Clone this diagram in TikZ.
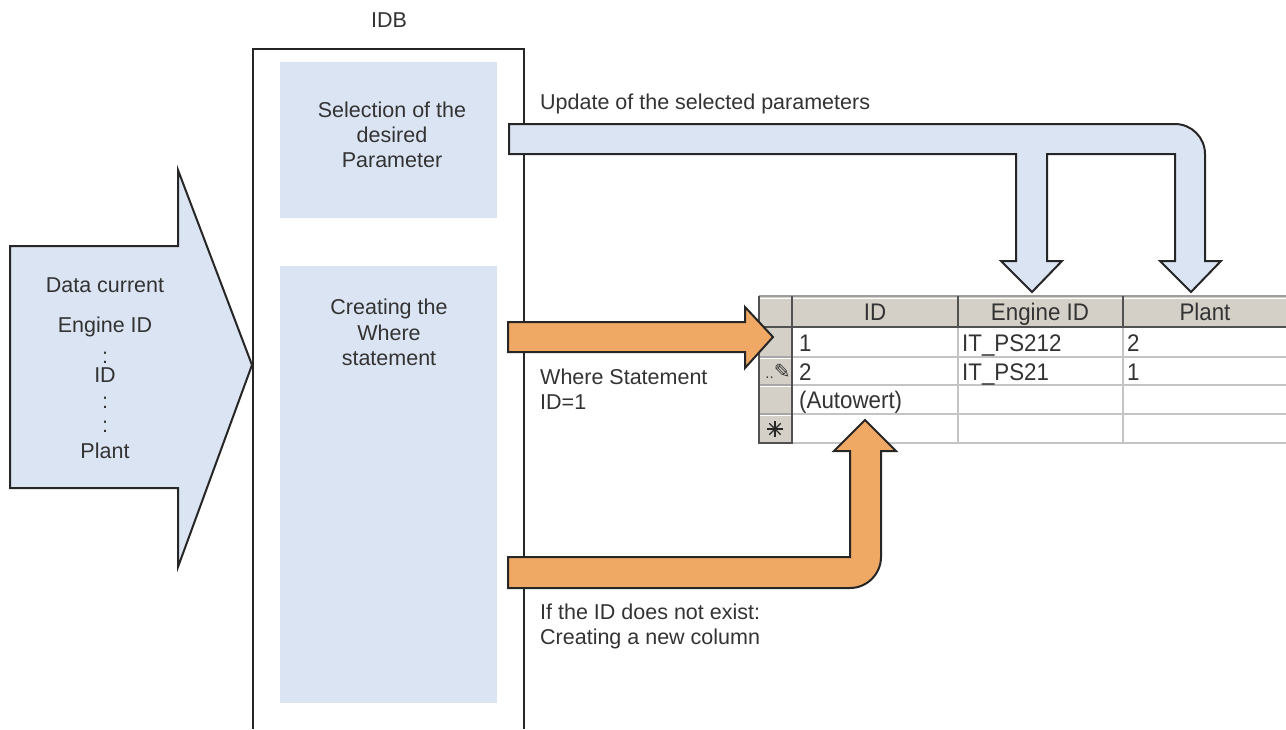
\documentclass[tikz,border=0pt]{standalone}
\usepackage{fontspec}
\usetikzlibrary{calc}
\setmainfont{Liberation Sans}
\newfontfamily\tablefont[FakeStretch=0.93]{Liberation Sans}
\newfontfamily\symfont{DejaVu Sans}
\definecolor{lblue}{HTML}{DBE4F2}
\definecolor{orng}{HTML}{F0A964}
\definecolor{txt}{HTML}{333333}
\definecolor{edge}{HTML}{262626}
\definecolor{hdr}{HTML}{D4D0C8}
\definecolor{gridc}{HTML}{C4C4C4}
\begin{document}
\begin{tikzpicture}[x=1pt,y=-1pt,
  lbl/.style={font=\fontsize{21.5}{25}\selectfont, text=txt, inner sep=0pt},
  tbl/.style={font=\tablefont\fontsize{24}{28}\selectfont, text=txt, inner sep=0pt},
  shape arrow/.style={draw=edge, line width=2pt, line join=miter},
  frame/.style={draw=edge, line width=1.6pt},
  panel/.style={fill=lblue},
  darkline/.style={draw=edge!80, line width=2pt},
  lightline/.style={draw=gridc, line width=1.6pt}]
\useasboundingbox (0,0) rectangle (1286,729);

% IDB frame
\draw[frame] (253,729) -- (253,49) -- (524,49) -- (524,729);
\node[lbl, anchor=base] (idb) at (389,27) {IDB};

% panels
\fill[panel] (280,62) rectangle (497,218);
\fill[panel] (280,266) rectangle (497,703);
\node[lbl, anchor=base] (sel1) at (392,117) {Selection of the};
\node[lbl, anchor=base] (sel2) at (392,142) {desired};
\node[lbl, anchor=base] (sel3) at (392,167) {Parameter};
\node[lbl, anchor=base] (cr1) at (389,314) {Creating the};
\node[lbl, anchor=base] (cr2) at (389,340) {Where};
\node[lbl, anchor=base] (cr3) at (389,365) {statement};

% left input arrow
\draw[shape arrow, fill=lblue] (10,246) -- (178,246) -- (178,170) -- (252,365)
  -- (178,567) -- (178,488) -- (10,488) -- cycle;
\node[lbl, anchor=base] (d1) at (105,292) {Data current};
\node[lbl, anchor=base] (d2) at (105,332) {Engine ID};
\node[lbl, anchor=base] (d3) at (105,363) {:};
\node[lbl, anchor=base] (d4) at (105,382) {ID};
\node[lbl, anchor=base] (d5) at (105,408) {:};
\node[lbl, anchor=base] (d6) at (105,432) {:};
\node[lbl, anchor=base] (d7) at (105,458) {Plant};

% blue update arrow
\draw[shape arrow, fill=lblue] (509,124) -- (1175,124)
  .. controls (1191.5,124) and (1205,137.5) .. (1205,154)
  -- (1205,261) -- (1221,261) -- (1191,292) -- (1160,261) -- (1175,261)
  -- (1175,154) -- (1047,154) -- (1047,261) -- (1062,261) -- (1032,292)
  -- (1001,261) -- (1016,261) -- (1016,154) -- (509,154) -- cycle;
\node[lbl, anchor=base west] (upd) at (540,109) {Update of the selected parameters};

% table
\fill[hdr] (759,296) rectangle (1290,327);
\fill[hdr] (759,327) rectangle (792,443);
\fill[white] (792,327) rectangle (1290,443);
\foreach \y in {357,385,414,443} {\draw[lightline] (792,\y) -- (1290,\y);}
\foreach \x in {958,1123} {\draw[lightline] (\x,327) -- (\x,443);}
\draw[draw=gridc!80!black, line width=2pt] (759,296) -- (1290,296);
\draw[draw=white, line width=1pt] (760,298.5) -- (1290,298.5);
\foreach \y in {357,385,414} {\draw[draw=gray!70, line width=1.6pt] (759,\y) -- (792,\y);
  \draw[draw=white, line width=1pt] (760,\y+1.5) -- (791,\y+1.5);}
\draw[darkline] (759,296) -- (759,444);
\draw[darkline] (758,443) -- (793,443);
\draw[darkline] (792,296) -- (792,444);
\draw[darkline] (759,327) -- (1290,327);
\draw[darkline] (958,296) -- (958,327);
\draw[darkline] (1123,296) -- (1123,327);

\node[tbl, anchor=base] (hID) at (875,320) {ID};
\node[tbl, anchor=base] (hEng) at (1040,320) {Engine ID};
\node[tbl, anchor=base] (hPl) at (1205,320) {Plant};
\node[tbl, anchor=base west] (r1a) at (799,351) {1};
\node[tbl, anchor=base west] (r1b) at (962,351) {IT\_PS212};
\node[tbl, anchor=base west] (r1c) at (1127,351) {2};
\node[tbl, anchor=base west] (r2a) at (799,380) {2};
\node[tbl, anchor=base west] (r2b) at (962,380) {IT\_PS21};
\node[tbl, anchor=base west] (r2c) at (1127,380) {1};
\node[tbl, anchor=base west] (r3a) at (799,408) {(Autowert)};
% row selector icons
\node[font=\symfont\fontsize{13}{13}\selectfont, text=txt, inner sep=0pt, anchor=base] (pen) at (778,378) {..\fontsize{20}{20}\selectfont ✎};
\coordinate (ast) at (775,429);
\foreach \a in {0,45,90,135} {\draw[edge, line width=1.3pt] ($(ast)+(\a:8)$) -- ($(ast)+(\a+180:8)$);}

% orange arrows
\draw[shape arrow, fill=orng] (508,322) -- (745,322) -- (745,307) -- (773,337)
  -- (745,368) -- (745,352) -- (508,352) -- cycle;
\node[lbl, anchor=base west] (wh1) at (540,384) {Where Statement};
\node[lbl, anchor=base west] (wh2) at (540,409) {ID=1};

\draw[shape arrow, fill=orng] (508,557) -- (850,557) -- (850,451) -- (834,451)
  -- (865,420) -- (896,451) -- (881,451) -- (881,557)
  .. controls (881,574) and (867,588) .. (850,588) -- (508,588) -- cycle;
\node[lbl, anchor=base west] (if1) at (540,619) {If the ID does not exist:};
\node[lbl, anchor=base west] (if2) at (540,644) {Creating a new column};
\end{tikzpicture}
\end{document}
